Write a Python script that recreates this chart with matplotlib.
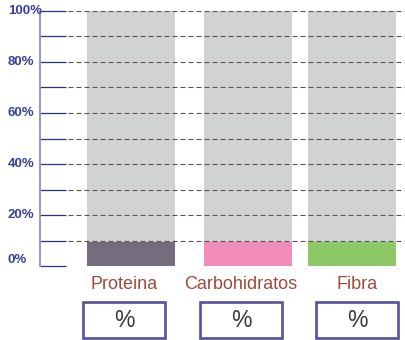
import matplotlib.pyplot as plt
from matplotlib.patches import Rectangle
from matplotlib.font_manager import fontManager

# chart data
categories = ["Proteina", "Carbohidratos", "Fibra"]
values = [9.5, 9.5, 9.5]
full_scale = [100, 100, 100]
bar_colors = ["#756c7e", "#f28cb8", "#8cc966"]
tick_values = [0, 20, 40, 60, 80, 100]
tick_labels = ["0%", "20%", "40%", "60%", "80%", "100%"]

names = {f.name for f in fontManager.ttflist}
narrow = "Liberation Sans Narrow" if "Liberation Sans Narrow" in names else "Liberation Sans"

# layout (x in pixels from the axis line)
bar_x = [91, 208, 312]
bar_w = 88
label_x = [43, 160, 276]
box_w = 82

fig = plt.figure(figsize=(4.05, 3.40), dpi=100)
ax = fig.add_axes([40 / 405, 74 / 340, 365 / 405, 255 / 340])
ax.set_xlim(0, 365)
ax.set_ylim(0, 100)

ax.bar(bar_x, full_scale, width=bar_w, color="#d1d2d4", zorder=1)
ax.bar(bar_x, values, width=bar_w, color=bar_colors, zorder=2)

# dashed guide lines
for v in range(10, 101, 10):
    ax.hlines(v, 28, 365, colors="#5e504c", linewidth=0.8,
              linestyles=(0, (4.5, 2.7)), zorder=3)

for s in ["top", "right", "bottom"]:
    ax.spines[s].set_visible(False)
ax.spines["left"].set_color("#8c8cd0")
ax.spines["left"].set_linewidth(1.3)
ax.set_xticks([])
ax.set_yticks(range(0, 101, 10))
ax.set_yticklabels([])
ax.tick_params(axis="y", direction="in", length=18.7, width=0.9, color="#2a2e85")

trans = ax.get_yaxis_transform()
for v, t in zip(tick_values, tick_labels):
    ax.text(-0.088, v, t, transform=trans, ha="left",
            va="bottom" if v == 0 else "center",
            fontsize=9.5, fontweight="bold", color="#3a3d9a", family=narrow)

# category names and answer boxes
for x, name in zip(label_x, categories):
    ax.text(x + box_w / 2, -7.4, name, ha="center", va="center",
            fontsize=13, color="#a04a3c", family="Liberation Sans", clip_on=False)
    ax.add_patch(Rectangle((x, -28.2), box_w, 14.1, facecolor="white",
                           edgecolor="#55509a", linewidth=1.9, clip_on=False))
    ax.text(x + box_w / 2, -21.2, "%", ha="center", va="center",
            fontsize=16.5, color="#3a3a3a", family=narrow, clip_on=False)

fig.savefig("out.png", dpi=100)
